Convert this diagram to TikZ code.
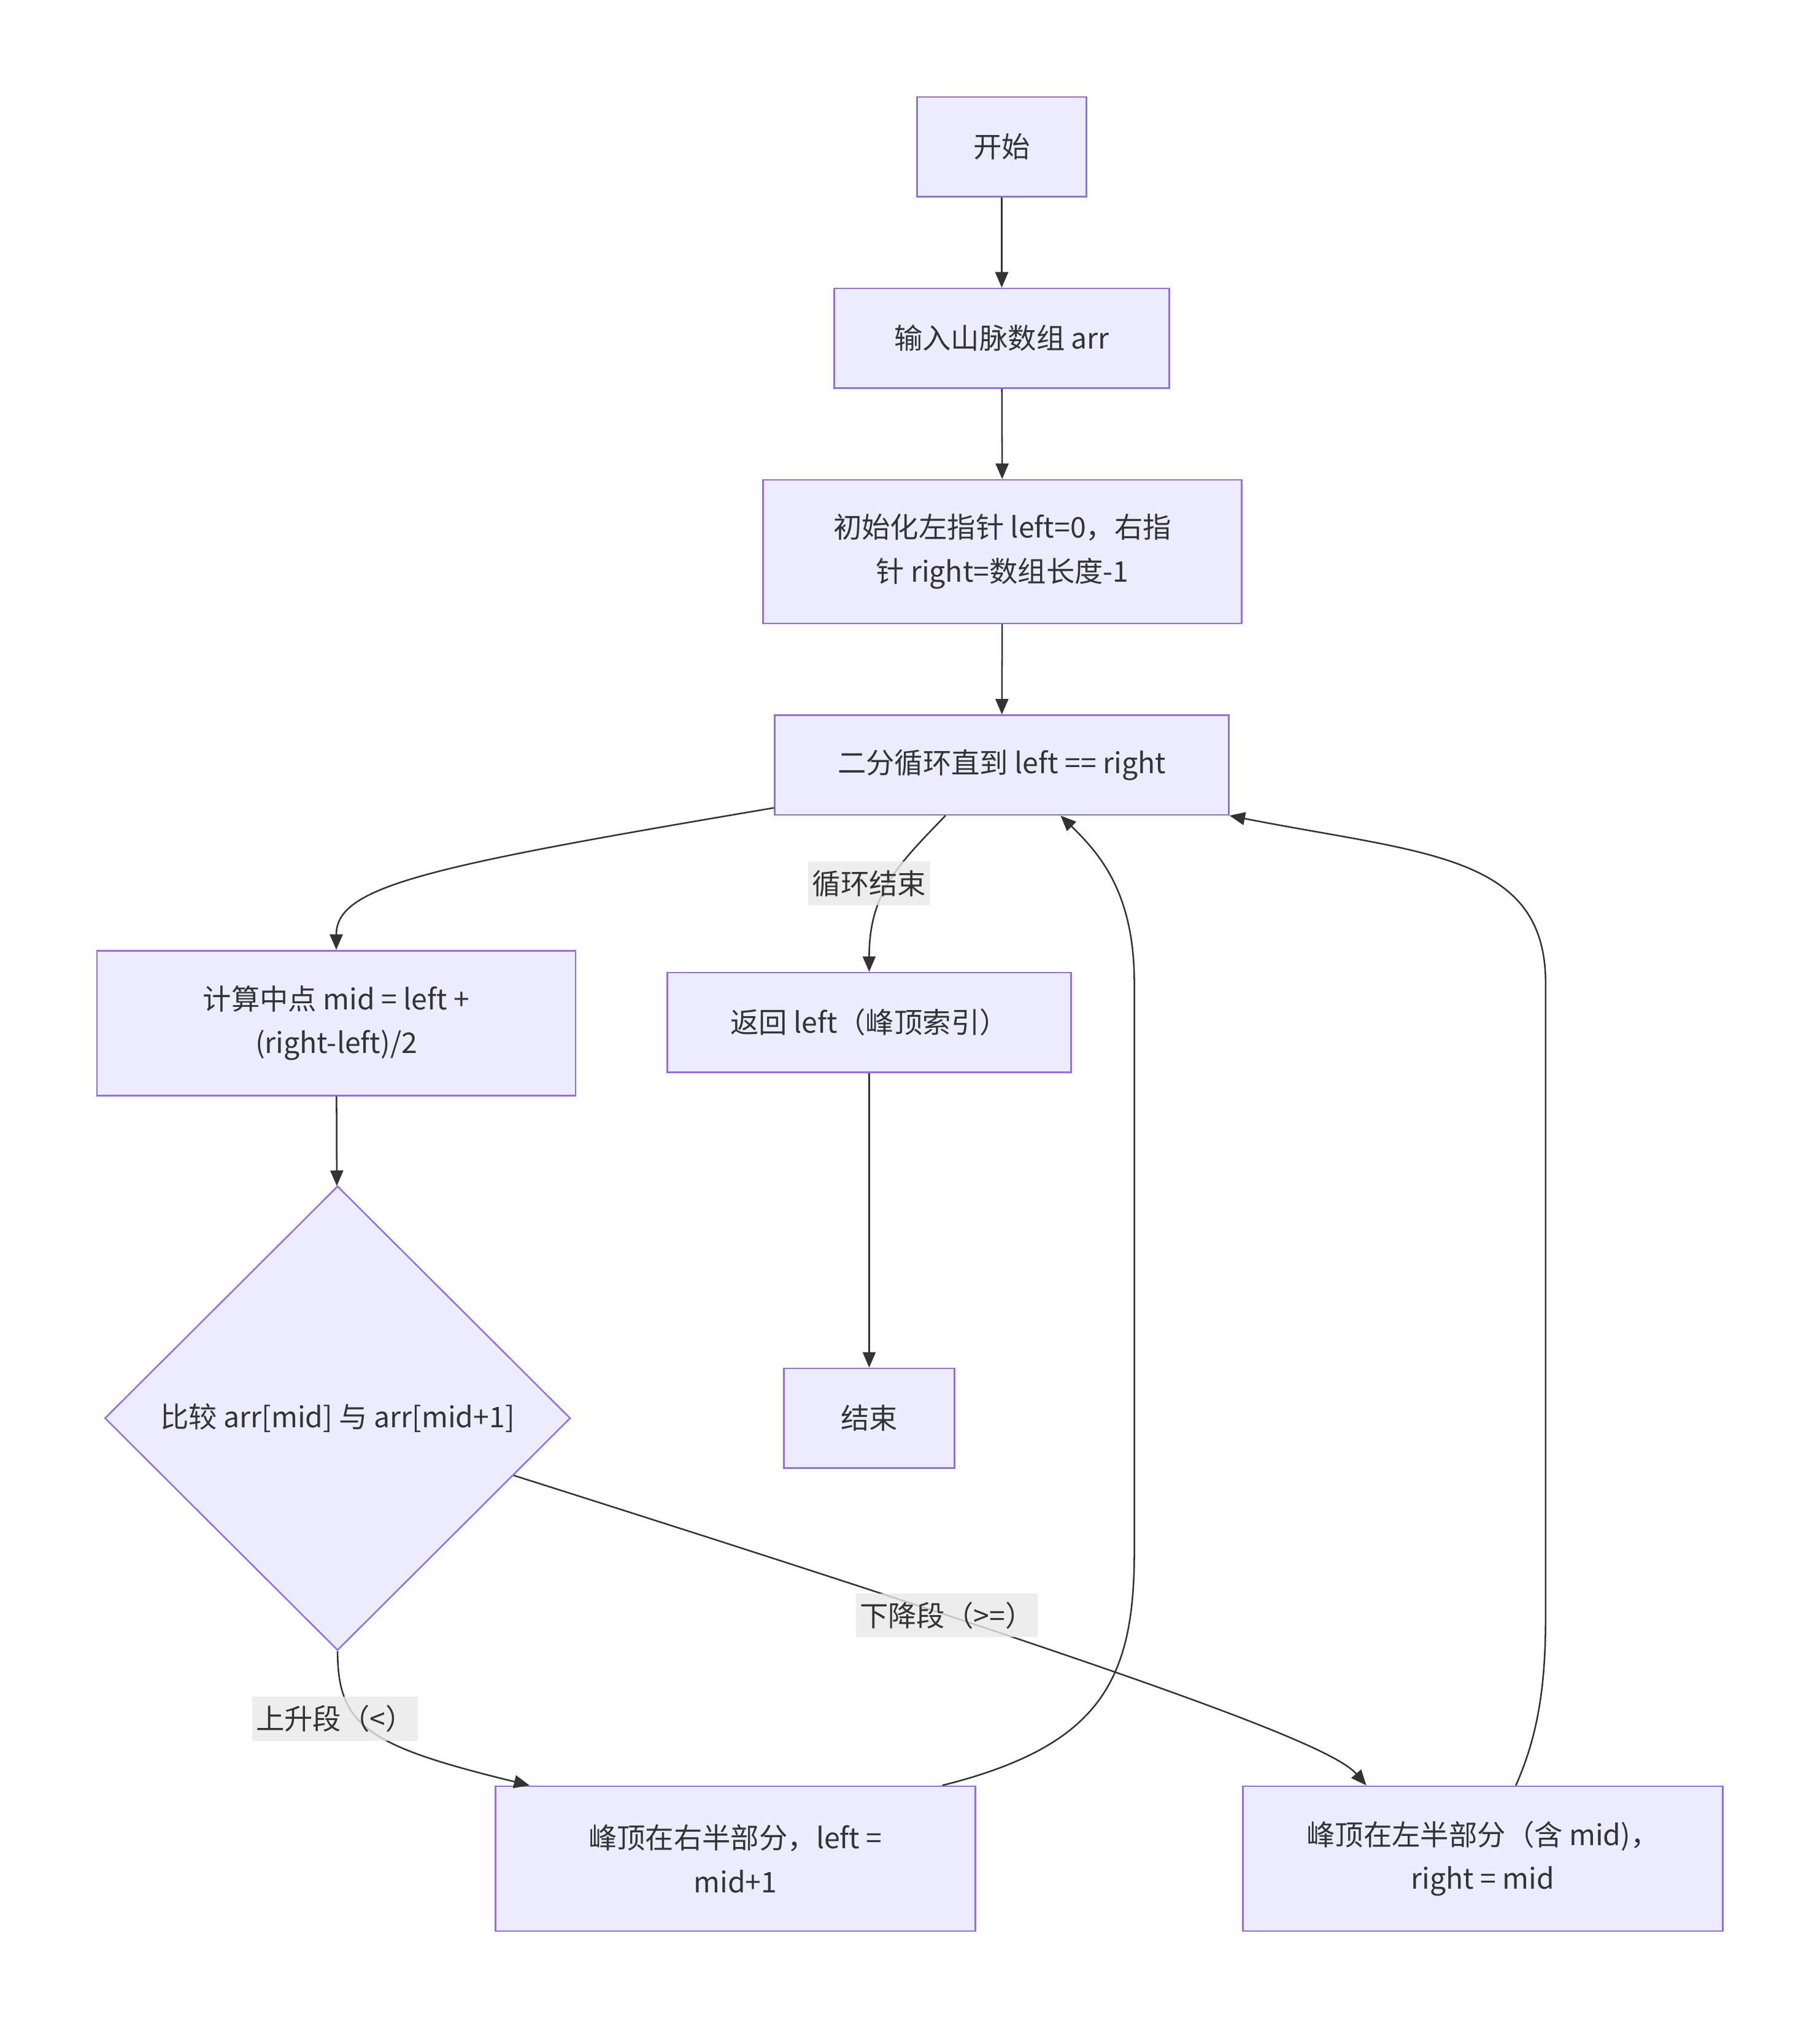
\documentclass[tikz,border=0pt]{standalone}
\usepackage{fontspec}
\setmainfont{Noto Sans CJK SC}
\usetikzlibrary{shapes.geometric,arrows.meta,calc}
\definecolor{boxfill}{HTML}{ECECFF}
\definecolor{boxline}{HTML}{9370DB}
\definecolor{ink}{HTML}{333333}
\definecolor{lblfill}{HTML}{E8E8E8}
\begin{document}
\begin{tikzpicture}[x=0.5pt, y=-0.5pt,
  every node/.style={font=\fontsize{11}{17}\selectfont, text=ink},
  box/.style={draw=boxline, fill=boxfill, line width=0.6pt, inner sep=0pt, align=center},
  decide/.style={diamond, draw=boxline, fill=boxfill, line width=0.6pt, inner sep=0pt,
    minimum width=180pt, minimum height=179.5pt, align=center},
  flow/.style={draw=ink, line width=0.6pt, -{Triangle[length=6pt,width=5pt]}},
  lbl/.style={fill=lblfill, fill opacity=0.8, text opacity=1, inner xsep=1.5pt, inner ysep=0pt,
    minimum height=17pt}]
\useasboundingbox (0,0) rectangle (1407,1568);
\node[box, minimum width=65.5pt, minimum height=38.5pt] (start) at (774.5,113.5) {开始};
\node[box, minimum width=129.5pt, minimum height=38.5pt] (input) at (774.5,261.5) {输入山脉数组 arr};
\node[box, minimum width=185pt, minimum height=55.5pt] (init) at (775,426.5) {初始化左指针 left=0，右指\\针 right=数组长度-1};
\node[box, minimum width=175.5pt, minimum height=38.5pt] (loop) at (774.5,591.5) {二分循环直到 left == right};
\node[box, minimum width=185pt, minimum height=56pt] (calcmid) at (260,791) {计算中点 mid = left +\\(right-left)/2};
\node[box, minimum width=156pt, minimum height=38.5pt] (ret) at (672,790.5) {返回 left（峰顶索引）};
\node[decide] (cmp) at (261,1096.5) {比较 arr[mid] 与 arr[mid+1]};
\node[box, minimum width=66pt, minimum height=38.5pt] (stop) at (672,1096.5) {结束};
\node[box, minimum width=185.5pt, minimum height=56pt] (rightHalf) at (568.5,1437) {峰顶在右半部分，left =\\mid+1};
\node[box, minimum width=185.5pt, minimum height=56pt] (leftHalf) at (1146.5,1437) {峰顶在左半部分（含 mid)，\\right = mid};
% straight steps
\draw[flow] (start) -- (input);
\draw[flow] (input) -- (init);
\draw[flow] (init) -- (loop);
\draw[flow] (ret) -- (stop);
\draw[flow] (calcmid) -- (cmp);
% loop body and exit
\draw[flow] ($(loop.south west)+(0,-6)$) .. controls (330,670) and (260,685) .. (calcmid.north);
\draw[flow] ($(loop.south)+(-43.5,0)$) .. controls (695,668) and (672,690) .. (ret.north);
% the two branches
\draw[flow] (cmp.south) .. controls (261,1335) and (285,1350) .. ($(rightHalf.north west)+(27,0)$);
\draw[flow] (cmp.-18) .. controls (900,1300) and (1030,1350) .. ($(leftHalf.north west)+(96,0)$);
% back to the loop
\draw[flow] ($(rightHalf.north east)+(-26,0)$) .. controls (850,1350) and (877,1300) .. (877,1200)
  -- (877,760) .. controls (877,690) and (850,660) .. ($(loop.south)+(45.5,0)$);
\draw[flow] ($(leftHalf.north)+(25.5,0)$) .. controls (1190,1340) and (1195,1300) .. (1195,1250)
  -- (1195,760) .. controls (1195,660) and (1100,660) .. (loop.south east);
% edge labels
\node[lbl] (lblEnd) at (672,683) {循环结束};
\node[lbl] (lblDown) at (732,1249) {下降段（>=）};
\node[lbl] (lblUp) at (259,1329) {上升段（<）};
\end{tikzpicture}
\end{document}
